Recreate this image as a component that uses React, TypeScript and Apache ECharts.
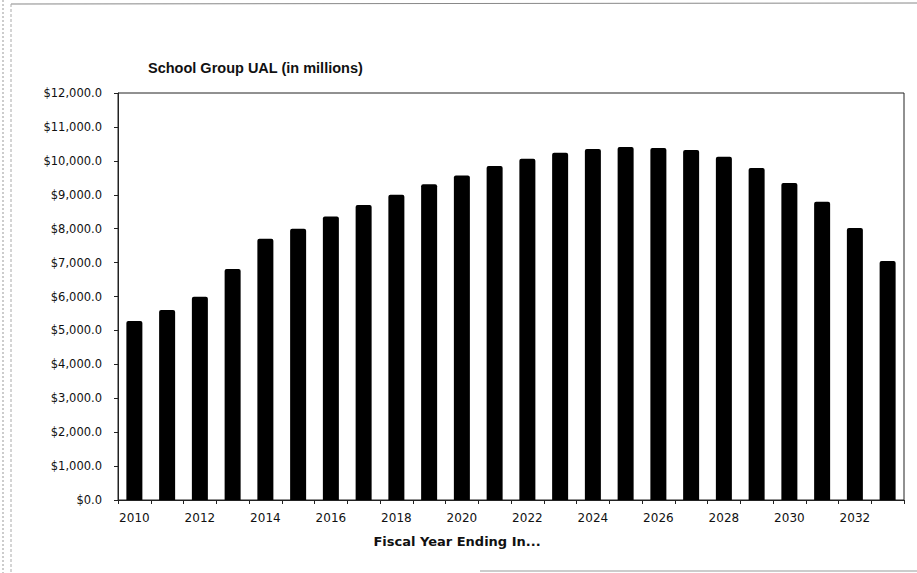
import React, { useEffect, useRef } from "react";
import * as echarts from "echarts";

const years: string[] = [
  "2010", "2011", "2012", "2013", "2014", "2015", "2016", "2017", "2018", "2019", "2020", "2021",
  "2022", "2023", "2024", "2025", "2026", "2027", "2028", "2029", "2030", "2031", "2032", "2033",
];
const ual: number[] = [
  5280, 5600, 5990, 6810, 7700, 8000, 8360, 8700, 9000, 9310, 9570, 9850,
  10060, 10240, 10350, 10410, 10380, 10320, 10120, 9790, 9350, 8790, 8020, 7050,
];
const chartTitle = "School Group UAL (in millions)";
const xAxisTitle = "Fiscal Year Ending In...";

const FONT = "'Liberation Sans', Arial, Helvetica, sans-serif";
const WIDE = "'DejaVu Sans', Verdana, sans-serif";

export default function App() {
  const ref = useRef<HTMLDivElement>(null);
  useEffect(() => {
    if (!ref.current) return;
    const chart = echarts.init(ref.current, undefined, { renderer: "svg" });
    chart.setOption({
      animation: false,
      backgroundColor: "#fff",
      title: {
        text: chartTitle,
        left: 143,
        top: 55,
        textStyle: { fontFamily: FONT, fontSize: 14.5, fontWeight: "bold", color: "#111" },
      },
      grid: {
        left: 118,
        right: 13,
        top: 93,
        bottom: 73,
        show: true,
        borderColor: "#222",
        borderWidth: 1,
        containLabel: false,
      },
      xAxis: {
        type: "category",
        data: years,
        axisLine: { lineStyle: { color: "#222", width: 1 } },
        axisTick: { show: true, interval: 0, alignWithLabel: false, length: 4, lineStyle: { color: "#222" } },
        axisLabel: { interval: 1, margin: 12, fontFamily: WIDE, fontSize: 12, color: "#111" },
      },
      yAxis: {
        type: "value",
        min: 0,
        max: 12000,
        interval: 1000,
        splitLine: { show: false },
        axisLine: { show: true, lineStyle: { color: "#222", width: 1 } },
        axisTick: { show: true, length: 4, lineStyle: { color: "#222" } },
        axisLabel: {
          margin: 16,
          fontFamily: WIDE,
          fontSize: 11.5,
          color: "#111",
          formatter: (v: number) =>
            "$" + v.toLocaleString("en-US", { minimumFractionDigits: 1, maximumFractionDigits: 1 }),
        },
      },
      series: [
        {
          type: "bar",
          data: ual,
          barWidth: 16,
          itemStyle: { color: "#000", borderRadius: [2, 2, 0, 0] },
        },
      ],
      graphic: [
        {
          type: "text",
          x: 457,
          y: 541,
          style: {
            text: xAxisTitle,
            fontFamily: WIDE,
            fontSize: 13,
            fontWeight: "bold",
            fill: "#111",
            textAlign: "center",
            textVerticalAlign: "middle",
          },
        },
        {
          type: "line",
          shape: { x1: 3, y1: 0, x2: 3, y2: 573 },
          style: { stroke: "#999", lineWidth: 1, lineDash: [2, 2] },
        },
        {
          type: "line",
          shape: { x1: 11, y1: 4, x2: 917, y2: 3 },
          style: { stroke: "#888", lineWidth: 1 },
        },
        {
          type: "line",
          shape: { x1: 11, y1: 4, x2: 11, y2: 573 },
          style: { stroke: "#aaa", lineWidth: 1, lineDash: [3, 2] },
        },
        {
          type: "line",
          shape: { x1: 480, y1: 571, x2: 917, y2: 571 },
          style: { stroke: "#999", lineWidth: 1 },
        },
      ],
    });
    return () => chart.dispose();
  }, []);
  return (
    <div
      ref={ref}
      style={{ position: "fixed", left: 0, top: 0, width: 917, height: 573 }}
    />
  );
}
